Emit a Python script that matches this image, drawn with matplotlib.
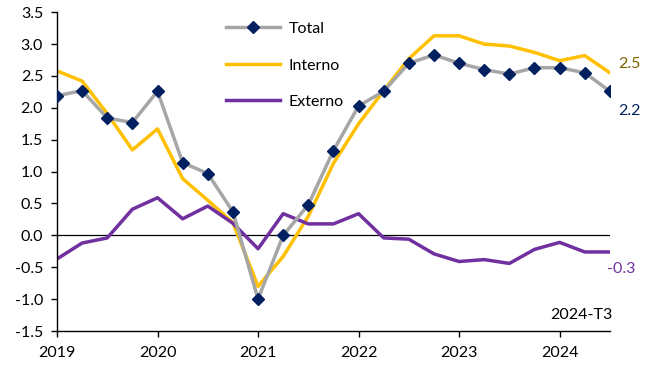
import matplotlib
matplotlib.use("Agg")
import matplotlib.pyplot as plt
import numpy as np

plt.rcParams['font.family'] = ['Lato', 'DejaVu Sans']

# quarterly data 2019-T1 .. 2024-T3
years = [2019, 2020, 2021, 2022, 2023, 2024]
total = [2.19, 2.27, 1.84, 1.77, 2.26, 1.14, 0.97, 0.37,
         -1.00, 0.00, 0.48, 1.33, 2.03, 2.26, 2.70, 2.83,
         2.70, 2.60, 2.53, 2.63, 2.63, 2.55, 2.26]
interno = [2.58, 2.42, 1.91, 1.34, 1.67, 0.89, 0.55, 0.20,
           -0.80, -0.33, 0.30, 1.13, 1.75, 2.27, 2.77, 3.13,
           3.13, 3.00, 2.97, 2.87, 2.74, 2.82, 2.55]
externo = [-0.37, -0.12, -0.04, 0.41, 0.59, 0.26, 0.46, 0.19,
           -0.21, 0.34, 0.18, 0.18, 0.34, -0.04, -0.06, -0.29,
           -0.41, -0.38, -0.44, -0.22, -0.11, -0.26, -0.26]
end_labels = ["2.5", "2.2", "-0.3"]

x = np.arange(len(total))
fs = 11.5

fig = plt.figure(figsize=(6.52, 3.66), dpi=100)
ax = fig.add_axes([0.0874, 0.0956, 0.848, 0.871])

ax.axhline(0, color='black', lw=0.9, zorder=1)
l1, = ax.plot(x, total, color='#A6A6A6', lw=2.5, marker='D', ms=6.5,
              mfc='#002060', mec='#002060', label='Total', zorder=3)
l2, = ax.plot(x, interno, color='#FFC000', lw=2.5, label='Interno', zorder=2)
l3, = ax.plot(x, externo, color='#7030A0', lw=2.5, label='Externo', zorder=2)

ax.set_xlim(0, len(total) - 1)
ax.set_ylim(-1.5, 3.5)
ax.set_yticks(np.arange(-1.5, 3.51, 0.5))
ax.set_yticklabels([f"{v:.1f}" for v in np.arange(-1.5, 3.51, 0.5)])
ax.set_xticks([4 * i for i in range(len(years))])
ax.set_xticklabels([str(y) for y in years])
ax.tick_params(labelsize=fs, direction='out', length=4, width=1)
ax.tick_params(axis='x', pad=7)
ax.tick_params(axis='y', pad=6)
for s in ['top', 'right']:
    ax.spines[s].set_visible(False)
for s in ['left', 'bottom']:
    ax.spines[s].set_linewidth(1)

# end-of-series labels
ax.annotate(end_labels[0], (x[-1], interno[-1]), xytext=(6, 6),
            textcoords='offset points', color='#7F6000', fontsize=fs,
            ha='left', va='center', annotation_clip=False)
ax.annotate(end_labels[1], (x[-1], total[-1]), xytext=(6, -14),
            textcoords='offset points', color='#002060', fontsize=fs,
            ha='left', va='center', annotation_clip=False)
ax.annotate(end_labels[2], (x[-1], externo[-1]), xytext=(-2, -12),
            textcoords='offset points', color='#7030A0', fontsize=fs,
            ha='left', va='center', annotation_clip=False)

ax.text(x[-1] + 0.1, -1.25, "2024-T3", ha='right', va='center', fontsize=fs)

ax.legend(handles=[l1, l2, l3], loc='upper left', bbox_to_anchor=(0.28, 1.015),
          frameon=False, fontsize=fs, handlelength=3.4, labelspacing=1.4,
          handletextpad=0.5)

fig.savefig('out.png', dpi=100)
